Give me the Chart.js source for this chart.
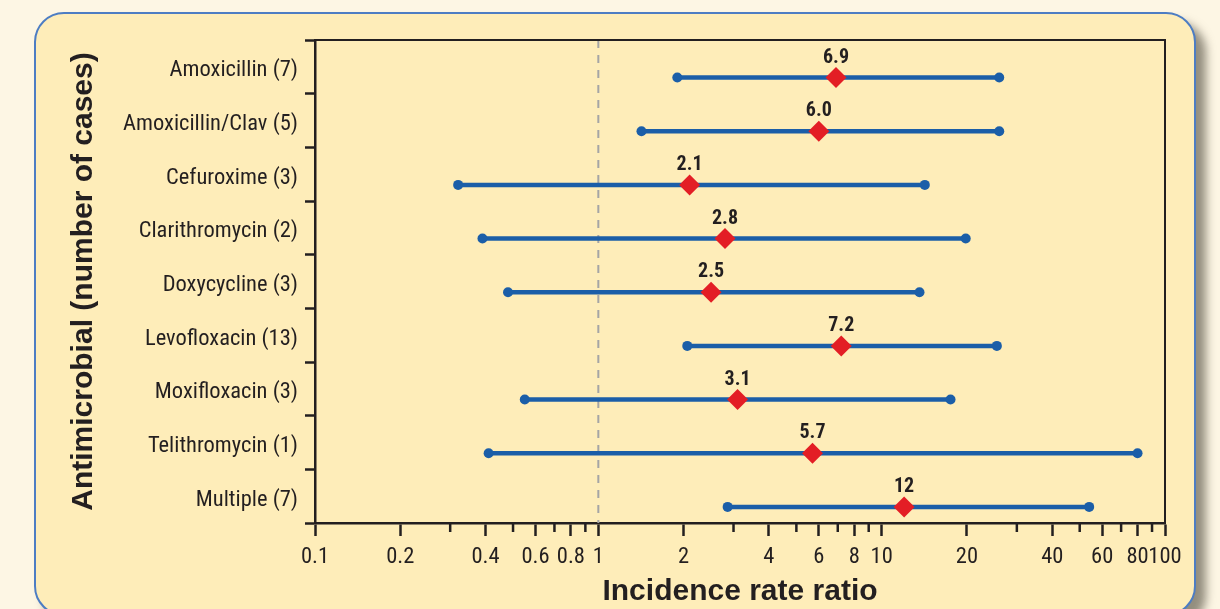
<!DOCTYPE html>
<html lang="en">
<head>
<meta charset="UTF-8">
<title>Incidence rate ratio by antimicrobial</title>
<script src="https://cdn.jsdelivr.net/npm/chart.js"></script>
<style>
  html, body { margin: 0; padding: 0; }
  body { width: 1220px; height: 609px; background: #fdf6e4; position: relative; overflow: hidden; }
  .panel {
    position: absolute; left: 34px; top: 12px; width: 1158px; height: 600px;
    background: #feedb9; border: 2.5px solid #4d7dc3; border-radius: 30px;
    box-shadow: 10px 10px 10px rgba(90, 86, 72, 0.65);
  }
  #chart { position: absolute; left: 0; top: 0; }
</style>
</head>
<body>
<div class="panel"></div>
<canvas id="chart" width="1220" height="609"></canvas>
<script>
// drugs (number of cases), top to bottom
var drugs = ["Amoxicillin (7)", "Amoxicillin/Clav (5)", "Cefuroxime (3)", "Clarithromycin (2)",
  "Doxycycline (3)", "Levofloxacin (13)", "Moxifloxacin (3)", "Telithromycin (1)", "Multiple (7)"];
var irr   = [6.9, 6.0, 2.1, 2.8, 2.5, 7.2, 3.1, 5.7, 12];
var lower = [1.9, 1.42, 0.32, 0.39, 0.48, 2.06, 0.55, 0.41, 2.86];
var upper = [26, 26, 14.2, 19.8, 13.6, 25.5, 17.5, 80, 54];

var majorTicks = [0.1, 0.2, 0.4, 0.6, 0.8, 1, 2, 4, 6, 8, 10, 20, 40, 60, 80, 100];
var minorTicks = [0.3, 0.5, 0.7, 0.9, 3, 5, 7, 9, 30, 50, 70, 90];
var refValue = 1;

var ink = "#231f20";
var narrow = "'Roboto Condensed', 'Liberation Sans', sans-serif";
var yMin = -0.7, yMax = drugs.length - 0.7;

var fmt = v => v >= 10 ? String(v) : v.toFixed(1);

// value labels above diamonds, top/right frame, short minor ticks
var extras = {
  id: "extras",
  afterDatasetsDraw(chart) {
    var ctx = chart.ctx;
    var meta = chart.getDatasetMeta(0);
    ctx.save();
    ctx.fillStyle = ink;
    ctx.font = "bold 20px " + narrow;
    ctx.textAlign = "center";
    ctx.textBaseline = "middle";
    meta.data.forEach((pt, i) => ctx.fillText(fmt(irr[i]), pt.x, pt.y - 20));
    ctx.restore();
  },
  afterDraw(chart) {
    var ctx = chart.ctx, a = chart.chartArea, x = chart.scales.x;
    ctx.save();
    ctx.strokeStyle = ink;
    ctx.lineWidth = 2;
    ctx.beginPath();
    ctx.moveTo(a.left, a.top);
    ctx.lineTo(a.right, a.top);
    ctx.lineTo(a.right, a.bottom);
    ctx.stroke();
    ctx.lineWidth = 2.5;
    minorTicks.forEach(v => {
      var px = x.getPixelForValue(v);
      ctx.beginPath();
      ctx.moveTo(px, a.bottom);
      ctx.lineTo(px, a.bottom + 9);
      ctx.stroke();
    });
    ctx.restore();
  }
};

var datasets = [{
  label: "IRR",
  data: irr.map((v, i) => ({ x: v, y: i })),
  showLine: false,
  pointStyle: "rectRot",
  pointRadius: 10.5,
  pointBackgroundColor: "#e31e25",
  pointBorderWidth: 0
}];
drugs.forEach((d, i) => {
  datasets.push({
    label: d,
    data: [{ x: lower[i], y: i }, { x: upper[i], y: i }],
    showLine: true,
    borderColor: "#1b5ea8",
    borderWidth: 4.5,
    pointRadius: 5,
    pointBackgroundColor: "#1b5ea8",
    pointBorderWidth: 0
  });
});
datasets.push({
  label: "ref",
  data: [{ x: refValue, y: yMin }, { x: refValue, y: yMax }],
  showLine: true,
  borderColor: "#a5a5a5",
  borderWidth: 2,
  borderDash: [8, 7],
  pointRadius: 0
});

new Chart(document.getElementById("chart"), {
  type: "scatter",
  data: { datasets: datasets },
  plugins: [extras],
  options: {
    responsive: false,
    animation: false,
    events: [],
    layout: { padding: { left: 60, top: 40, right: 55, bottom: 0 } },
    plugins: { legend: { display: false }, tooltip: { enabled: false } },
    scales: {
      x: {
        type: "logarithmic",
        min: 0.1,
        max: 100,
        afterBuildTicks: s => { s.ticks = majorTicks.map(v => ({ value: v })); },
        afterFit: s => { s.height = 86; },
        border: { color: ink, width: 2.5 },
        grid: { drawOnChartArea: false, tickLength: 13, tickWidth: 2.5, tickColor: ink },
        ticks: {
          autoSkip: false, maxRotation: 0, padding: 8, color: ink,
          font: { family: narrow, size: 22.5 },
          callback: v => String(v)
        },
        title: {
          display: true, text: "Incidence rate ratio", color: ink,
          font: { family: "'Liberation Sans', Arial, sans-serif", size: 30, weight: "bold" },
          padding: { top: 4, bottom: -1 }
        }
      },
      y: {
        type: "linear",
        reverse: true,
        min: yMin,
        max: yMax,
        afterBuildTicks: s => {
          var t = drugs.map((d, i) => ({ value: i - 0.13, name: d }));
          for (var i = 0; i <= drugs.length; i++) t.push({ value: i - 0.7 });
          s.ticks = t;
        },
        afterFit: s => { s.width = 255; },
        border: { color: ink, width: 2.5 },
        grid: {
          drawOnChartArea: false, tickLength: 10, tickWidth: 2.5,
          tickColor: c => (c.tick && c.tick.name) ? "rgba(0,0,0,0)" : ink
        },
        ticks: {
          autoSkip: false, padding: 7, color: ink,
          font: { family: narrow, size: 22.5 },
          callback: (v, i, ticks) => ticks[i].name || ""
        },
        title: {
          display: true, text: "Antimicrobial (number of cases)", color: ink,
          font: { family: "'Liberation Sans', Arial, sans-serif", size: 30, weight: "bold" },
          padding: { top: 6, bottom: 4 }
        }
      }
    }
  }
});
</script>
</body>
</html>
